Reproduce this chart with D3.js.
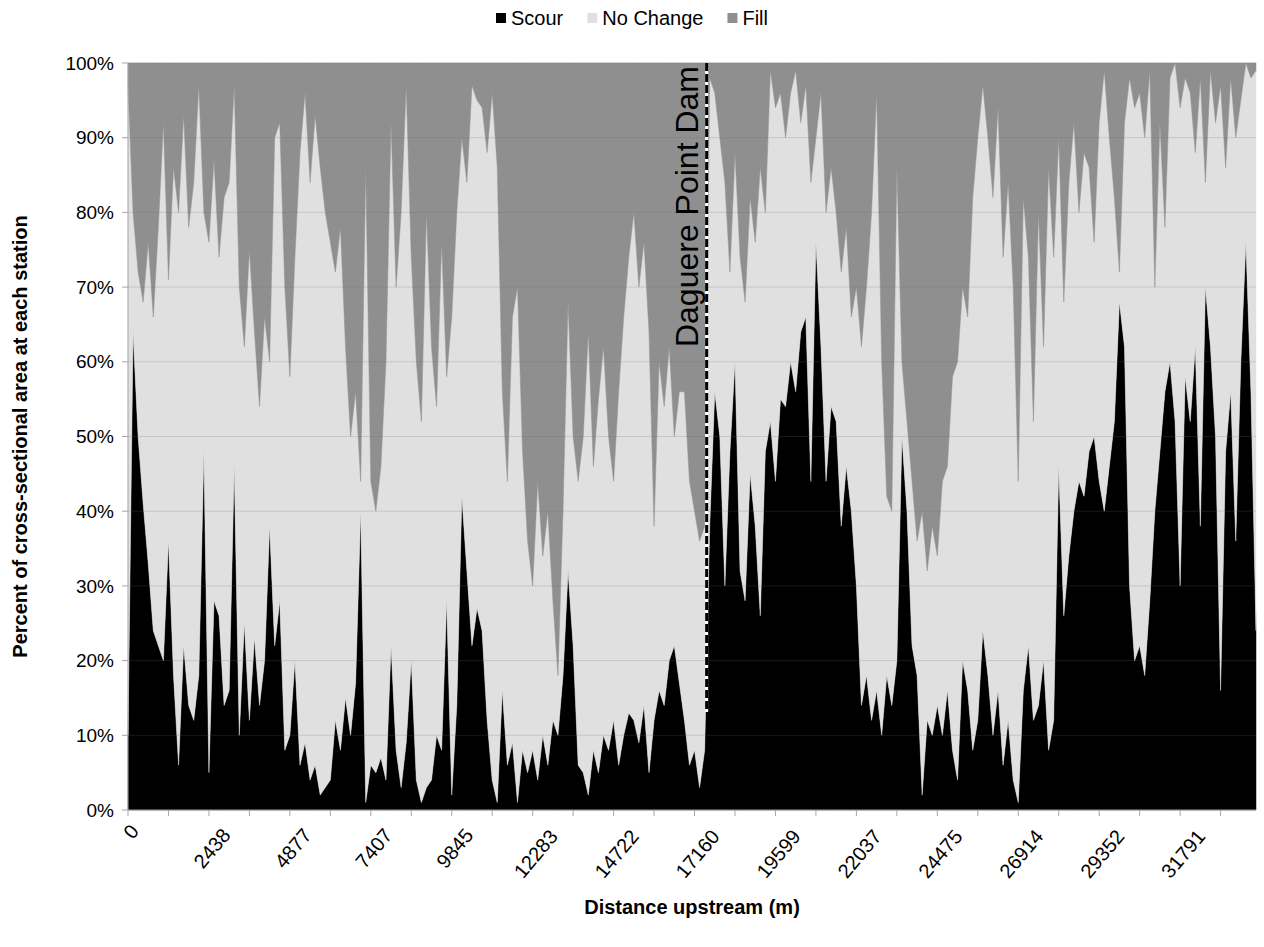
<!DOCTYPE html>
<html lang="en">
<head>
<meta charset="UTF-8">
<title>Scour and fill by station</title>
<style>
body { margin: 0; background: #fff; }
svg text { font-family: "Liberation Sans", Arial, sans-serif; fill: #000; }
</style>
</head>
<body>

<svg id="chart" width="1264" height="947"></svg>

<script src="https://cdnjs.cloudflare.com/ajax/libs/d3/7.8.5/d3.min.js"></script>
<script>
// one sample every 5 stations (stations ~30.5 m apart), values in percent
var scour = [
  10, 64, 50, 41, 33, 24, 22, 20, 36, 18,
  6, 22, 14, 12, 18, 48, 5, 28, 26, 14,
  16, 46, 10, 25, 12, 23, 14, 20, 38, 22,
  28, 8, 10, 20, 6, 9, 4, 6, 2, 3,
  4, 12, 8, 15, 10, 17, 40, 1, 6, 5,
  7, 4, 22, 8, 3, 9, 20, 4, 1, 3,
  4, 10, 8, 28, 2, 14, 42, 32, 22, 27,
  24, 12, 4, 1, 16, 6, 9, 1, 8, 5,
  8, 4, 10, 6, 12, 10, 18, 32, 22, 6,
  5, 2, 8, 5, 10, 8, 12, 6, 10, 13,
  12, 9, 14, 5, 12, 16, 14, 20, 22, 17,
  12, 6, 8, 3, 8, 38, 56, 50, 30, 48,
  60, 32, 28, 45, 38, 26, 48, 52, 44, 55,
  54, 60, 56, 64, 66, 44, 76, 62, 44, 54,
  52, 38, 46, 40, 30, 14, 18, 12, 16, 10,
  18, 14, 20, 50, 40, 22, 18, 2, 12, 10,
  14, 10, 16, 8, 4, 20, 16, 8, 12, 24,
  18, 10, 16, 6, 12, 4, 1, 16, 22, 12,
  14, 20, 8, 12, 46, 26, 34, 40, 44, 42,
  48, 50, 44, 40, 46, 52, 68, 62, 30, 20,
  22, 18, 28, 40, 48, 56, 60, 52, 30, 58,
  52, 62, 38, 70, 62, 50, 16, 48, 56, 36,
  60, 76, 56, 24
];

var fill = [
  3, 20, 28, 32, 24, 34, 22, 8, 29, 14,
  20, 7, 22, 16, 3, 20, 24, 13, 26, 18,
  16, 3, 30, 38, 25, 36, 46, 34, 40, 10,
  8, 30, 42, 26, 12, 4, 16, 7, 14, 20,
  24, 28, 22, 38, 50, 44, 56, 14, 56, 60,
  54, 40, 8, 30, 20, 3, 26, 40, 48, 20,
  38, 46, 24, 42, 34, 20, 10, 16, 3, 5,
  6, 12, 4, 14, 44, 56, 34, 30, 52, 64,
  70, 56, 66, 60, 72, 82, 60, 32, 50, 56,
  50, 36, 54, 45, 38, 50, 56, 44, 34, 26,
  20, 30, 24, 36, 62, 40, 46, 38, 50, 44,
  44, 56, 60, 64, 62, 2, 4, 10, 16, 28,
  12, 26, 32, 18, 24, 14, 20, 1, 6, 4,
  10, 4, 1, 8, 3, 16, 10, 4, 20, 14,
  20, 28, 22, 34, 30, 38, 30, 20, 4, 40,
  58, 60, 14, 40, 48, 56, 64, 60, 68, 62,
  66, 56, 54, 42, 40, 30, 34, 18, 10, 3,
  10, 18, 6, 26, 16, 30, 56, 18, 26, 48,
  20, 38, 14, 26, 10, 32, 16, 8, 20, 12,
  14, 24, 8, 1, 10, 18, 28, 8, 2, 6,
  4, 10, 1, 30, 8, 22, 2, 0, 6, 2,
  4, 12, 2, 16, 1, 8, 3, 14, 2, 10,
  5, 0, 2, 1
];

var stationsPerSample = 5;
var tickLabels = ["0", "2438", "4877", "7407", "9845", "12283", "14722", "17160",
                  "19599", "22037", "24475", "26914", "29352", "31791"];
var stationsPerLabel = 80;
var stationsPerTick = 40;
var yTicks = [0, 10, 20, 30, 40, 50, 60, 70, 80, 90, 100];
var seriesNames = ["Scour", "No Change", "Fill"];
var seriesColors = ["#000000", "#e0e0e0", "#8f8f8f"];
var damStation = 572;
var damLabel = "Daguere Point Dam";

var svg = d3.select("#chart");
var plotLeft = 128, plotRight = 1256, plotTop = 63, plotBottom = 810;
var lastStation = (scour.length - 1) * stationsPerSample;

var x = d3.scaleLinear().domain([0, lastStation]).range([plotLeft, plotRight]);
var y = d3.scaleLinear().domain([0, 100]).range([plotBottom, plotTop]);

var rows = scour.map(function (s, i) {
  return {station: i * stationsPerSample, scour: s, noChange: 100 - s - fill[i], fill: fill[i]};
});

var stack = d3.stack().keys(["scour", "noChange", "fill"]);
var layers = stack(rows);

var area = d3.area()
  .x(function (d) { return x(d.data.station); })
  .y0(function (d) { return y(d[0]); })
  .y1(function (d) { return y(d[1]); });

svg.append("g").selectAll("path")
  .data(layers)
  .enter().append("path")
  .attr("d", area)
  .attr("fill", function (d, i) { return seriesColors[i]; })
  .attr("stroke", function (d, i) { return seriesColors[i]; })
  .attr("stroke-width", 0.5);

// faint gridlines over the areas
svg.append("g").selectAll("line")
  .data(yTicks.filter(function (t) { return t > 0; }))
  .enter().append("line")
  .attr("x1", plotLeft).attr("x2", plotRight)
  .attr("y1", function (d) { return y(d); })
  .attr("y2", function (d) { return y(d); })
  .attr("stroke", "#6e6e6e")
  .attr("stroke-opacity", 0.22);

// y axis
var yAxis = svg.append("g");
yAxis.append("line")
  .attr("x1", plotLeft).attr("x2", plotLeft).attr("y1", plotTop).attr("y2", plotBottom)
  .attr("stroke", "#a6a6a6");
yAxis.selectAll(".tk").data(yTicks).enter().append("line")
  .attr("x1", plotLeft - 6).attr("x2", plotLeft)
  .attr("y1", function (d) { return y(d); })
  .attr("y2", function (d) { return y(d); })
  .attr("stroke", "#a6a6a6");
yAxis.selectAll("text").data(yTicks).enter().append("text")
  .attr("x", plotLeft - 14)
  .attr("y", function (d) { return y(d); })
  .attr("dy", "0.35em")
  .attr("text-anchor", "end")
  .style("font-size", "19px")
  .text(function (d) { return d + "%"; });

// x axis
var xAxis = svg.append("g");
xAxis.append("line")
  .attr("x1", plotLeft).attr("x2", plotRight).attr("y1", plotBottom).attr("y2", plotBottom)
  .attr("stroke", "#a6a6a6");
var tickStations = d3.range(0, lastStation, stationsPerTick);
xAxis.selectAll(".tk").data(tickStations).enter().append("line")
  .attr("x1", function (d) { return x(d); })
  .attr("x2", function (d) { return x(d); })
  .attr("y1", plotBottom).attr("y2", plotBottom + 6)
  .attr("stroke", "#a6a6a6");
// rotated labels hang centred under their tick
var xLabels = xAxis.selectAll("text").data(tickLabels).enter().append("text")
  .attr("text-anchor", "middle")
  .attr("dy", "0.35em")
  .style("font-size", "20px")
  .text(function (d) { return d; });
xLabels.attr("transform", function (d, i) {
  var len = this.getComputedTextLength();
  return "translate(" + (x(i * stationsPerLabel) + 3) + "," + (plotBottom + 16 + len * 0.5) + ") rotate(-50)";
});

svg.append("text")
  .attr("x", (plotLeft + plotRight) / 2)
  .attr("y", 914)
  .attr("text-anchor", "middle")
  .style("font-size", "20px")
  .style("font-weight", "bold")
  .text("Distance upstream (m)");

svg.append("text")
  .attr("transform", "translate(27," + ((plotTop + plotBottom) / 2) + ") rotate(-90)")
  .attr("text-anchor", "middle")
  .style("font-size", "20px")
  .style("font-weight", "bold")
  .text("Percent of cross-sectional area at each station");

// dam marker
var damX = x(damStation);
svg.append("line")
  .attr("x1", damX).attr("x2", damX).attr("y1", plotTop).attr("y2", 712)
  .attr("stroke", "#ffffff").attr("stroke-width", 3);
svg.append("line")
  .attr("x1", damX).attr("x2", damX).attr("y1", plotTop).attr("y2", 712)
  .attr("stroke", "#000000").attr("stroke-width", 3)
  .attr("stroke-dasharray", "8,3");
svg.append("text")
  .attr("transform", "translate(" + (damX - 9) + "," + (plotTop + 3) + ") rotate(-90)")
  .attr("text-anchor", "end")
  .style("font-size", "32px")
  .text(damLabel);

// legend
var legend = svg.append("g");
var lx = 0;
seriesNames.forEach(function (name, i) {
  legend.append("rect")
    .attr("x", lx).attr("y", 13).attr("width", 10).attr("height", 10)
    .attr("fill", seriesColors[i]);
  var t = legend.append("text")
    .attr("x", lx + 15).attr("y", 25)
    .style("font-size", "20px")
    .text(name);
  lx += 15 + t.node().getComputedTextLength() + 24;
});
lx -= 24;
legend.attr("transform", "translate(" + (632 - lx / 2) + ",0)");
</script>

</body>
</html>
